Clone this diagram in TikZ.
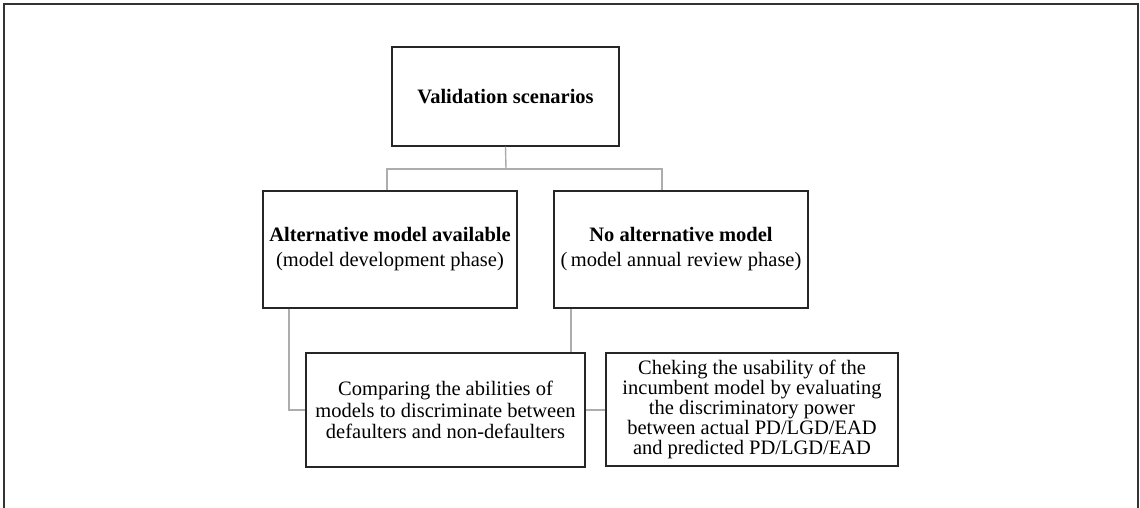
\documentclass[tikz,border=0pt]{standalone}
\usepackage{fontspec}
\setmainfont{Liberation Serif}
\begin{document}
\begin{tikzpicture}[x=1pt,y=-1pt,
  boxnode/.style={draw=black!85,line width=1.3pt,align=center,inner sep=2pt,
    font=\fontsize{20.5}{21.5}\selectfont},
  conn/.style={draw=black!32,line width=1.4pt},
  frame/.style={draw=black!80,line width=2pt}]
\useasboundingbox (0,0) rectangle (1140,508);
\draw[frame] (4,508) -- (4,4) -- (1138,4) -- (1138,508);
\node[boxnode,minimum width=227pt,minimum height=99pt] (top) at (505.5,96.5) {\textbf{Validation scenarios}};
\node[boxnode,minimum width=254pt,minimum height=117pt,font=\fontsize{20.5}{25}\selectfont] (alt) at (390,249.5)
  {\textbf{Alternative model available}\\(model development phase)};
\node[boxnode,minimum width=254pt,minimum height=117pt,font=\fontsize{20.5}{25}\selectfont] (noalt) at (681,249.5)
  {\textbf{No alternative model}\\(\,model annual review phase)};
\node[boxnode,minimum width=279pt,minimum height=114pt] (cmp) at (445.5,410)
  {Comparing the abilities of\\models to discriminate between\\defaulters and non-defaulters};
\node[boxnode,minimum width=292pt,minimum height=113pt,font=\fontsize{20.5}{20}\selectfont] (chk) at (752,409.5)
  {Cheking the usability of the\\incumbent model by evaluating\\the discriminatory power\\between actual PD/LGD/EAD\\and predicted PD/LGD/EAD};
\coordinate (bus) at (506,169);
\draw[conn] (top.south) -- (bus);
\draw[conn] ([xshift=-3pt]alt.north) |- (bus) -| ([xshift=-19pt]noalt.north);
\draw[conn] ([xshift=-101pt]alt.south) |- (cmp.west);
\draw[conn] ([xshift=-110pt]noalt.south) -- ([xshift=-110pt]noalt.south |- cmp.north);
\draw[conn] (cmp.east) -- (chk.west |- cmp.east);
\end{tikzpicture}
\end{document}
